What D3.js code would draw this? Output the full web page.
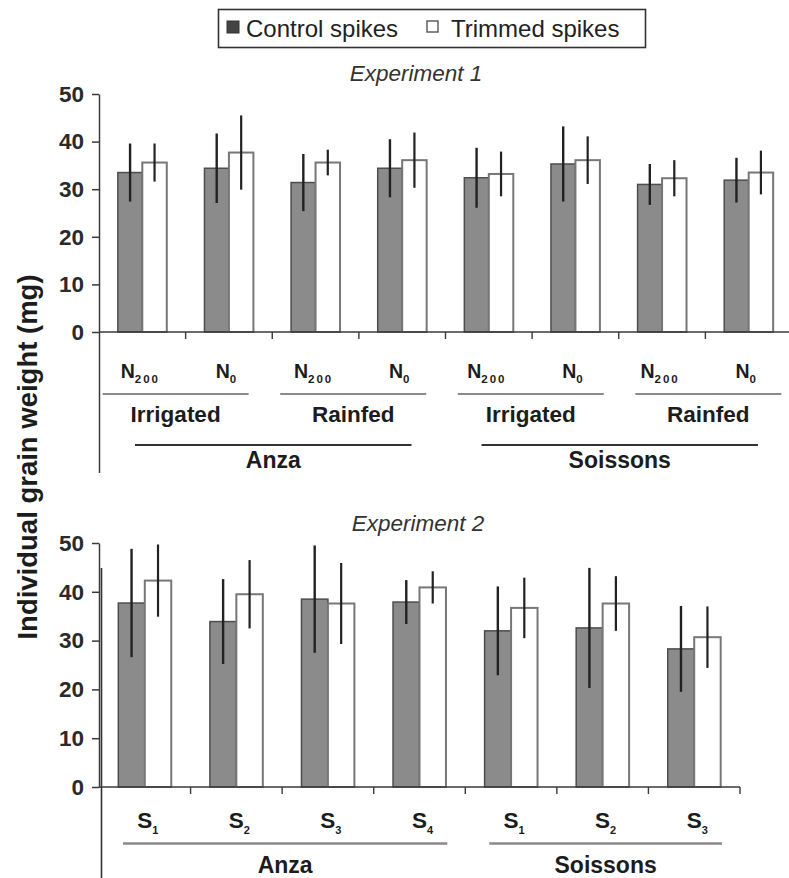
<!DOCTYPE html>
<html>
<head>
<meta charset="utf-8">
<script src="https://cdn.jsdelivr.net/npm/d3@7/dist/d3.min.js"></script>
<style>
  html, body { margin: 0; padding: 0; background: #fff; }
  svg { display: block; font-family: "Liberation Sans", Arial, Helvetica, sans-serif; }
</style>
</head>
<body>
<svg id="chart" width="789" height="878"></svg>
<script>
// ---- Experiment 1: cultivar x water regime x nitrogen ----
const exp1Cultivar = ["Anza", "Anza", "Anza", "Anza", "Soissons", "Soissons", "Soissons", "Soissons"];
const exp1Water = ["Irrigated", "Irrigated", "Rainfed", "Rainfed", "Irrigated", "Irrigated", "Rainfed", "Rainfed"];
const exp1Nitrogen = ["200", "0", "200", "0", "200", "0", "200", "0"];
const exp1Control = [33.5, 34.4, 31.4, 34.4, 32.4, 35.3, 31.0, 31.9];
const exp1ControlErr = [6.1, 7.3, 6.0, 6.1, 6.3, 7.9, 4.3, 4.7];
const exp1Trimmed = [35.6, 37.7, 35.6, 36.1, 33.2, 36.1, 32.3, 33.5];
const exp1TrimmedErr = [4.0, 7.8, 2.7, 5.8, 4.7, 5.0, 3.8, 4.6];

// ---- Experiment 2: cultivar x sowing date ----
const exp2Cultivar = ["Anza", "Anza", "Anza", "Anza", "Soissons", "Soissons", "Soissons"];
const exp2Sowing = ["1", "2", "3", "4", "1", "2", "3"];
const exp2Control = [37.7, 33.9, 38.5, 37.9, 32.0, 32.6, 28.3];
const exp2ControlErr = [11.1, 8.7, 11.0, 4.5, 9.1, 12.3, 8.8];
const exp2Trimmed = [42.3, 39.5, 37.6, 40.9, 36.7, 37.6, 30.7];
const exp2TrimmedErr = [7.4, 7.0, 8.3, 3.3, 6.2, 5.6, 6.3];

const yTicks = [0, 10, 20, 30, 40, 50];
const seriesNames = ["Control spikes", "Trimmed spikes"];
const yTitle = "Individual grain weight (mg)";

const svg = d3.select("#chart");
const ink = "#1c1c1c";
const axisInk = "#3a3a3a";
const ctrlFill = "#8b8b8b", ctrlStroke = "#4d4d4d";
const trimFill = "#ffffff", trimStroke = "#777777";
const groupLine1 = "#8a8a8a";

// ---- Legend ----
const legend = svg.append("g");
legend.append("rect").attr("x", 218.5).attr("y", 9.5).attr("width", 427).attr("height", 38)
  .attr("fill", "#fff").attr("stroke", "#333").attr("stroke-width", 1.6);
legend.append("rect").attr("x", 227).attr("y", 21).attr("width", 12).attr("height", 12)
  .attr("fill", "#444").attr("stroke", "#333");
legend.append("text").attr("x", 246).attr("y", 36.5).attr("font-size", 24).attr("fill", "#222")
  .text(seriesNames[0]);
legend.append("rect").attr("x", 427).attr("y", 21).attr("width", 11).attr("height", 11)
  .attr("fill", "#fff").attr("stroke", "#555").attr("stroke-width", 1.4);
legend.append("text").attr("x", 451).attr("y", 36.5).attr("font-size", 24).attr("fill", "#222")
  .text(seriesNames[1]);

// ---- Y-axis title (shared) ----
svg.append("text")
  .attr("transform", "translate(37,457) rotate(-90)")
  .attr("text-anchor", "middle")
  .attr("font-size", 27.5).attr("font-weight", "bold").attr("fill", ink)
  .text(yTitle);

function drawPanel(opts) {
  const { n, control, controlErr, trimmed, trimmedErr, x0, x1, yTop, yZero, outerPad } = opts;
  const g = svg.append("g");
  const idx = d3.range(n);
  const x = d3.scaleBand().domain(idx).range([x0, x1]).padding(0);
  const xs = d3.scaleBand().domain(["control", "trimmed"]).range([0, x.bandwidth()])
    .paddingInner(0).paddingOuter(outerPad);
  const y = d3.scaleLinear().domain([0, 50]).range([yZero, yTop]);

  // bars
  const rows = idx.map(i => ({ i, control: control[i], ce: controlErr[i], trimmed: trimmed[i], te: trimmedErr[i] }));
  g.selectAll("rect.ctrl").data(rows).join("rect")
    .attr("x", d => x(d.i) + xs("control")).attr("y", d => y(d.control))
    .attr("width", xs.bandwidth()).attr("height", d => y(0) - y(d.control))
    .attr("fill", ctrlFill).attr("stroke", ctrlStroke).attr("stroke-width", 1.5);
  g.selectAll("rect.trim").data(rows).join("rect")
    .attr("x", d => x(d.i) + xs("trimmed")).attr("y", d => y(d.trimmed))
    .attr("width", xs.bandwidth()).attr("height", d => y(0) - y(d.trimmed))
    .attr("fill", trimFill).attr("stroke", trimStroke).attr("stroke-width", 2);

  // error bars
  g.selectAll("line.ce").data(rows).join("line")
    .attr("x1", d => x(d.i) + xs("control") + xs.bandwidth() / 2)
    .attr("x2", d => x(d.i) + xs("control") + xs.bandwidth() / 2)
    .attr("y1", d => y(d.control + d.ce)).attr("y2", d => y(d.control - d.ce))
    .attr("stroke", "#222").attr("stroke-width", 2.4);
  g.selectAll("line.te").data(rows).join("line")
    .attr("x1", d => x(d.i) + xs("trimmed") + xs.bandwidth() / 2)
    .attr("x2", d => x(d.i) + xs("trimmed") + xs.bandwidth() / 2)
    .attr("y1", d => y(d.trimmed + d.te)).attr("y2", d => y(d.trimmed - d.te))
    .attr("stroke", "#222").attr("stroke-width", 2.2);

  // y axis
  const yAxis = d3.axisLeft(y).tickValues(yTicks).tickSize(7).tickPadding(8).tickSizeOuter(0);
  const ya = g.append("g").attr("transform", `translate(${x0},0)`).call(yAxis);
  ya.select(".domain").attr("stroke", axisInk).attr("stroke-width", 1.5);
  ya.selectAll(".tick line").attr("stroke", axisInk).attr("stroke-width", 1.5);
  ya.selectAll(".tick text").attr("font-size", 22.5).attr("font-weight", "bold")
    .attr("fill", "#2a2a2a").attr("font-family", "'Liberation Sans', Arial, sans-serif");

  // x axis baseline with boundary ticks
  g.append("line").attr("x1", x0).attr("x2", x1).attr("y1", y(0)).attr("y2", y(0))
    .attr("stroke", axisInk).attr("stroke-width", 1.5);
  g.selectAll("line.xt").data(d3.range(1, n + 1)).join("line")
    .attr("x1", d => x0 + d * x.step()).attr("x2", d => x0 + d * x.step())
    .attr("y1", y(0)).attr("y2", y(0) + 7)
    .attr("stroke", axisInk).attr("stroke-width", 1.4);

  return { g, x, y };
}

// ---- Panel 1 ----
const p1 = drawPanel({
  n: 8, control: exp1Control, controlErr: exp1ControlErr,
  trimmed: exp1Trimmed, trimmedErr: exp1TrimmedErr,
  x0: 99, x1: 792, yTop: 94, yZero: 332, outerPad: 0.77
});
// axis line continues down through the category labels
p1.g.append("line").attr("x1", 99.5).attr("x2", 99.5).attr("y1", p1.y(0)).attr("y2", 473)
  .attr("stroke", axisInk).attr("stroke-width", 1.5);

svg.append("text").attr("x", 416).attr("y", 81).attr("text-anchor", "middle")
  .attr("font-size", 22.5).attr("font-style", "italic").attr("fill", "#333")
  .text("Experiment 1");

// nitrogen labels
const nLab = p1.g.selectAll("text.nl").data(d3.range(8)).join("text")
  .attr("x", i => p1.x(i) + p1.x.bandwidth() / 2 - 2).attr("y", 378)
  .attr("text-anchor", "middle").attr("font-weight", "bold").attr("fill", ink);
nLab.append("tspan").attr("font-size", 19.5).text("N");
nLab.append("tspan").attr("font-size", 11.5).attr("dy", 5).attr("letter-spacing", 2)
  .text(i => exp1Nitrogen[i]);

// water-regime groups
const waterGroups = [];
exp1Water.forEach((w, i) => {
  const last = waterGroups[waterGroups.length - 1];
  if (last && last.name === w && exp1Cultivar[last.start] === exp1Cultivar[i]) last.end = i;
  else waterGroups.push({ name: w, start: i, end: i });
});
waterGroups.forEach(gr => {
  const a = p1.x(gr.start), b = p1.x(gr.end) + p1.x.bandwidth();
  const c = (a + b) / 2 - 10 + (a - 99) * 0.025;
  p1.g.append("line").attr("x1", c - 73).attr("x2", c + 73).attr("y1", 394).attr("y2", 394)
    .attr("stroke", groupLine1).attr("stroke-width", 2.2);
  p1.g.append("text").attr("x", c).attr("y", 422).attr("text-anchor", "middle")
    .attr("font-size", 22.5).attr("font-weight", "bold").attr("fill", ink).text(gr.name);
});

// cultivar groups
function cultivarGroups(arr) {
  const out = [];
  arr.forEach((c, i) => {
    const last = out[out.length - 1];
    if (last && last.name === c) last.end = i; else out.push({ name: c, start: i, end: i });
  });
  return out;
}
cultivarGroups(exp1Cultivar).forEach(gr => {
  const a = p1.x(gr.start), b = p1.x(gr.end) + p1.x.bandwidth();
  const c = (a + b) / 2 + 1;
  p1.g.append("line").attr("x1", a + 36).attr("x2", b - 34).attr("y1", 445).attr("y2", 445)
    .attr("stroke", "#333").attr("stroke-width", 1.8);
  p1.g.append("text").attr("x", c).attr("y", 468).attr("text-anchor", "middle")
    .attr("font-size", 23).attr("font-weight", "bold").attr("fill", ink).text(gr.name);
});

// ---- Panel 2 ----
const p2 = drawPanel({
  n: 7, control: exp2Control, controlErr: exp2ControlErr,
  trimmed: exp2Trimmed, trimmedErr: exp2TrimmedErr,
  x0: 99, x1: 740, yTop: 543, yZero: 787, outerPad: 0.73
});
p2.g.append("line").attr("x1", 101.5).attr("x2", 101.5).attr("y1", 568).attr("y2", 878)
  .attr("stroke", "#333").attr("stroke-width", 1.6);

svg.append("text").attr("x", 418).attr("y", 531).attr("text-anchor", "middle")
  .attr("font-size", 22.5).attr("font-style", "italic").attr("fill", "#333")
  .text("Experiment 2");

const sLab = p2.g.selectAll("text.sl").data(d3.range(7)).join("text")
  .attr("x", i => p2.x(i) + p2.x.bandwidth() / 2 + 3).attr("y", 828)
  .attr("text-anchor", "middle").attr("font-weight", "bold").attr("fill", ink);
sLab.append("tspan").attr("font-size", 22.5).text("S");
sLab.append("tspan").attr("font-size", 11).attr("dy", 6).text(i => exp2Sowing[i]);

cultivarGroups(exp2Cultivar).forEach(gr => {
  const a = p2.x(gr.start), b = p2.x(gr.end) + p2.x.bandwidth();
  const c = (a + b) / 2 + 3;
  p2.g.append("line").attr("x1", a + 24).attr("x2", b - 18).attr("y1", 843.5).attr("y2", 843.5)
    .attr("stroke", groupLine1).attr("stroke-width", 2.4);
  p2.g.append("text").attr("x", c).attr("y", 873).attr("text-anchor", "middle")
    .attr("font-size", 23).attr("font-weight", "bold").attr("fill", ink).text(gr.name);
});
</script>
</body>
</html>
